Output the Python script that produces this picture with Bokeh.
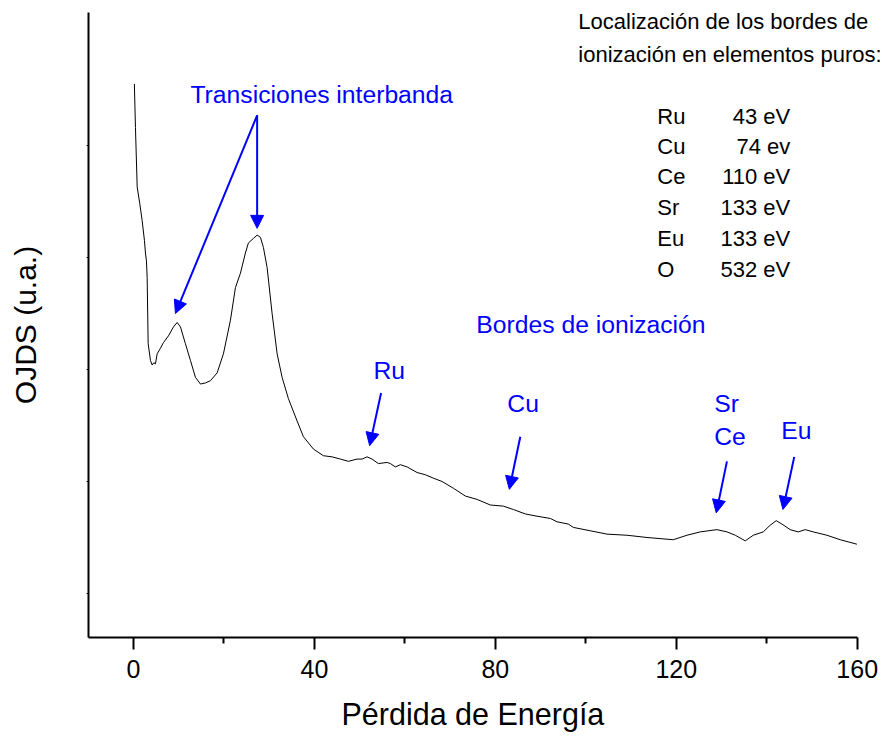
from bokeh.plotting import figure
from bokeh.models import Range1d, FixedTicker, Arrow, NormalHead, ColumnDataSource, Label, Title
from bokeh.core.properties import value
from bokeh.embed import file_html
from bokeh.resources import INLINE

FONT = "Liberation Sans"

# Spectrum (energy loss in eV, intensity in arbitrary units)
energy = [0.2, 0.44, 0.82, 1.40, 1.92, 2.43, 2.65, 2.87, 3.03, 3.25, 3.76, 4.13, 4.49, 4.86,
          5.24, 5.97, 6.63, 7.73, 8.84, 9.66, 10.39, 11.49, 12.60, 13.70, 14.81, 15.91,
          17.02, 18.50, 19.89, 21.44, 22.54, 23.65, 24.75, 25.41, 26.52, 27.34, 28.07,
          28.73, 29.55, 30.65, 31.76, 32.86, 34.25, 36.18, 37.57, 39.78, 41.99, 43.91,
          45.75, 47.51, 49.44, 50.54, 51.65, 52.75, 54.14, 56.07, 56.80, 57.90, 59.01,
          60.49, 62.70, 64.53, 66.30, 68.22, 70.72, 73.37, 75.96, 78.90, 81.77, 83.98,
          86.63, 89.22, 92.15, 93.64, 96.13, 97.24, 100.99, 104.69, 109.10, 113.53,
          119.34, 122.36, 125.30, 128.99, 131.20, 133.04, 135.25, 137.02, 139.23, 140.77,
          142.10, 143.36, 145.19, 146.96, 148.51, 150.28, 153.30, 156.24, 159.93]
intensity = [4.55, 4.16, 3.63, 3.48, 3.33, 3.15, 3.04, 2.97, 2.82, 2.23, 2.08, 2.04, 2.06, 2.05,
             2.14, 2.19, 2.24, 2.30, 2.38, 2.42, 2.38, 2.23, 2.08, 1.93, 1.87, 1.88,
             1.90, 1.97, 2.14, 2.44, 2.73, 2.86, 3.04, 3.13, 3.17, 3.20, 3.18,
             3.09, 2.91, 2.50, 2.14, 1.93, 1.74, 1.54, 1.40, 1.29, 1.23, 1.22,
             1.20, 1.18, 1.20, 1.20, 1.22, 1.20, 1.16, 1.17, 1.16, 1.13, 1.15,
             1.13, 1.08, 1.06, 1.03, 1.00, 0.94, 0.87, 0.84, 0.79, 0.78, 0.75,
             0.71, 0.69, 0.67, 0.64, 0.62, 0.59, 0.56, 0.53, 0.52, 0.50,
             0.48, 0.52, 0.55, 0.57, 0.55, 0.52, 0.47, 0.52, 0.55, 0.61,
             0.65, 0.62, 0.57, 0.55, 0.57, 0.55, 0.52, 0.48, 0.44]

x_ticks = [0, 40, 80, 120, 160]
x_minor = [20, 60, 100, 140]
x_axis_bounds = (-9.94, 160)
y_ticks = [0, 1, 2, 3, 4]
x_title = "Pérdida de Energía"
y_title = "OJDS (u.a.)"

# Blue annotation labels
label_text = ["Transiciones interbanda", "Bordes de ionización", "Ru", "Cu", "Sr", "Ce", "Eu"]
label_x = [12.60, 75.80, 53.04, 82.65, 128.4, 128.4, 143.2]
label_y = [4.455, 2.40, 1.99, 1.70, 1.70, 1.40, 1.455]

# Arrows (start -> tip)
arrow_x0 = [27.34, 27.34, 54.74, 85.52, 131.20, 146.08]
arrow_y0 = [4.27, 4.27, 1.79, 1.40, 1.18, 1.22]
arrow_x1 = [9.28, 27.34, 52.22, 83.09, 128.84, 143.58]
arrow_y1 = [2.50, 3.26, 1.32, 0.93, 0.72, 0.75]

# Reference table
header_lines = ["Localización de los bordes de", "ionización en elementos puros:"]
header_x = 98.34
header_y = [5.107, 4.812]
elements = ["Ru", "Cu", "Ce", "Sr", "Eu", "O"]
edges = ["43 eV", "74 ev", "110 eV", "133 eV", "133 eV", "532 eV"]
table_y = [4.259, 3.991, 3.723, 3.446, 3.169, 2.8925]
elem_x = 115.8
edge_x = 145.2

p = figure(frame_width=794, frame_height=625, output_backend="svg", toolbar_location=None,
           x_range=Range1d(-9.94, 165.59), y_range=Range1d(-0.393, 5.1875),
           min_border_left=88, min_border_right=0, min_border_top=12, min_border_bottom=100)
p.outline_line_color = None
p.grid.visible = False
p.background_fill_color = "white"
p.border_fill_color = "white"

p.line(energy, intensity, line_color="black", line_width=1)

xa = p.xaxis[0]
xa.bounds = x_axis_bounds
xa.ticker = FixedTicker(ticks=x_ticks, minor_ticks=x_minor)
xa.axis_line_width = 2
xa.major_tick_line_width = 2
xa.minor_tick_line_width = 2
xa.major_tick_out = 12
xa.major_tick_in = 0
xa.minor_tick_out = 6
xa.minor_tick_in = 0
xa.major_label_text_font = FONT
xa.major_label_text_font_size = "25px"
xa.major_label_text_color = "black"
xa.major_label_standoff = 10

# x-axis title as a bottom title, placed under the centre of the bounded axis
p.add_layout(Title(text=x_title, align="left", offset=253, standoff=28,
                   text_font=FONT, text_font_size="30.5px", text_font_style="normal",
                   text_color="black"), "below")

ya = p.yaxis[0]
ya.ticker = FixedTicker(ticks=y_ticks, minor_ticks=[])
ya.axis_line_width = 2
ya.major_tick_line_width = 1
ya.major_tick_out = 2
ya.major_tick_in = 0
ya.minor_tick_out = 0
ya.minor_tick_in = 0
ya.major_label_overrides = {t: "" for t in y_ticks}
ya.major_label_standoff = 0
ya.axis_label = y_title
ya.axis_label_text_font = FONT
ya.axis_label_text_font_size = "30px"
ya.axis_label_text_font_style = "normal"
ya.axis_label_text_color = "black"
ya.axis_label_standoff = 45

lab_src = ColumnDataSource(dict(x=label_x, y=label_y, t=label_text))
p.text(x="x", y="y", text="t", source=lab_src, text_color="#0000FF",
       text_font=value(FONT), text_font_size="24.7px", text_baseline="alphabetic", text_align="left")

arr_src = ColumnDataSource(dict(x0=arrow_x0, y0=arrow_y0, x1=arrow_x1, y1=arrow_y1))
p.add_layout(Arrow(end=NormalHead(size=13, fill_color="#0000FF", line_color="#0000FF", line_width=1),
                   x_start="x0", y_start="y0", x_end="x1", y_end="y1", source=arr_src,
                   line_color="#0000FF", line_width=2))

for line, hy in zip(header_lines, header_y):
    p.add_layout(Label(x=header_x, y=hy, text=line, text_color="black", text_font=FONT,
                       text_font_size="22px", text_baseline="alphabetic", text_align="left"))
for el, ev, ty in zip(elements, edges, table_y):
    p.add_layout(Label(x=elem_x, y=ty, text=el, text_color="black", text_font=FONT,
                       text_font_size="22px", text_baseline="alphabetic", text_align="left"))
    p.add_layout(Label(x=edge_x, y=ty, text=ev, text_color="black", text_font=FONT,
                       text_font_size="22px", text_baseline="alphabetic", text_align="right"))

open("out.html", "w").write(file_html(p, INLINE))
